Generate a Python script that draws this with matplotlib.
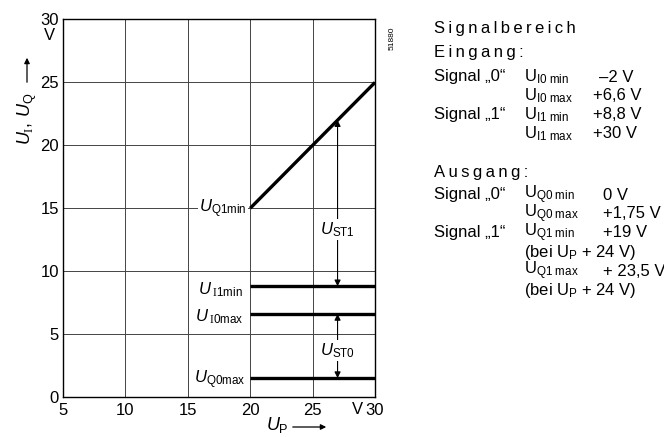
import matplotlib
matplotlib.use("Agg")
import matplotlib.pyplot as plt

# Kennlinien
up_q1 = [20, 30]
uq1_min = [15, 25]
up_flat = [20, 30]
ui1_min = [8.8, 8.8]
ui0_max = [6.6, 6.6]
uq0_max = [1.5, 1.5]

x_ticks = [5, 10, 15, 20, 25, 30]
y_ticks = [0, 5, 10, 15, 20, 25, 30]

# Störabstände
ust_x = 27
ust1 = (22, 8.8)
ust0 = (6.6, 1.5)

SANS = "Liberation Sans"
plt.rcParams["font.family"] = [SANS, "DejaVu Sans"]
plt.rcParams["mathtext.fontset"] = "custom"
plt.rcParams["mathtext.rm"] = SANS
plt.rcParams["mathtext.it"] = SANS + ":italic"
plt.rcParams["mathtext.sf"] = SANS
plt.rcParams["mathtext.tt"] = "Liberation Serif"

W, H = 664, 437
fig = plt.figure(figsize=(W / 100, H / 100), dpi=100)
ax = fig.add_axes([63 / W, 1 - 397 / H, 312 / W, 377.5 / H])


def px(x, y):
    return x / W, 1 - y / H


ax.set_xlim(5, 30)
ax.set_ylim(0, 30)
ax.set_xticks(x_ticks)
ax.set_yticks(y_ticks)
ax.tick_params(length=0, labelsize=12)
ax.tick_params(axis="x", pad=4)
ax.tick_params(axis="y", pad=3)
ax.grid(True, color="#444444", lw=0.7)
for s in ax.spines.values():
    s.set_linewidth(1.0)

ax.plot(up_q1, uq1_min, color="black", lw=2.4, solid_capstyle="butt")
ax.plot(up_flat, ui1_min, color="black", lw=2.4, solid_capstyle="butt")
ax.plot(up_flat, ui0_max, color="black", lw=2.4, solid_capstyle="butt")
ax.plot(up_flat, uq0_max, color="black", lw=2.4, solid_capstyle="butt")

arr = dict(arrowstyle="<|-|>", lw=0.8, color="black", mutation_scale=9,
           shrinkA=0, shrinkB=0)
ax.annotate("", xy=(ust_x, ust1[0]), xytext=(ust_x, ust1[1]), arrowprops=arr)
ax.annotate("", xy=(ust_x, ust0[0]), xytext=(ust_x, ust0[1]), arrowprops=arr)

box = dict(facecolor="white", edgecolor="none", pad=1)
lab = dict(fontsize=12, va="center", bbox=box)
ax.text(19.7, 15, r"$U_{\mathsf{Q1min}}$", ha="right", **lab)
ax.text(19.4, 8.5, r"$U\,_{\mathtt{I}\mathsf{1min}}$", ha="right", **lab)
ax.text(19.5, 6.4, r"$U\,_{\mathtt{I}\mathsf{0max}}$", ha="right", **lab)
ax.text(19.6, 1.4, r"$U_{\mathsf{Q0max}}$", ha="right", **lab)
ax.text(ust_x, 13.3, r"$U_{\mathsf{ST1}}$", ha="center", **lab)
ax.text(ust_x, 3.7, r"$U_{\mathsf{ST0}}$", ha="center", **lab)

# Achsenbeschriftung
fig.text(*px(49, 36), "V", fontsize=12, ha="center", va="center")
fig.text(*px(357, 410), "V", fontsize=12, ha="center", va="center")
fig.text(*px(27, 119), r"$U_{\mathtt{I}},\,U_{\mathsf{Q}}$", fontsize=13,
         rotation=90, ha="center", va="center")
fig.add_artist(matplotlib.patches.FancyArrowPatch(
    px(27, 85), px(27, 55), transform=fig.transFigure, arrowstyle="-|>",
    mutation_scale=8, lw=0.9, color="black"))
fig.text(*px(277, 425), r"$U_{\mathsf{P}}$", fontsize=13, ha="center", va="center")
fig.add_artist(matplotlib.patches.FancyArrowPatch(
    px(290, 427), px(329, 427), transform=fig.transFigure, arrowstyle="-|>",
    mutation_scale=8, lw=0.9, color="black"))
fig.text(*px(392, 38), "51880", fontsize=6, rotation=90, ha="center", va="center")

# Tabelle rechts
REG = [SANS, "DejaVu Sans"]
tsz = 12
col_a, col_b, col_c, col_d = 434, 524, 593, 603


def t(x, y, s):
    fig.text(*px(x, y), s, fontsize=tsz, family=REG, ha="left", va="center")


def spaced(s):
    return "\u2009".join(s)


def u(sub):
    return r"$\mathrm{U}_{\mathrm{" + sub.replace(" ", r"\ ") + "}}$"


t(col_a, 28, spaced("Signalbereich"))
t(col_a, 52, spaced("Eingang:"))
t(col_a, 77, "Signal \u201e0\u201c")
t(col_b, 77, u("I0 min"))
t(col_c + 6, 77, "\u20132 V")
t(col_b, 96, u("I0 max"))
t(col_c, 96, "+6,6 V")
t(col_a, 115, "Signal \u201e1\u201c")
t(col_b, 115, u("I1 min"))
t(col_c, 115, "+8,8 V")
t(col_b, 134, u("I1 max"))
t(col_c, 134, "+30 V")

t(col_a, 172, spaced("Ausgang:"))
t(col_a, 195, "Signal \u201e0\u201c")
t(col_b, 195, u("Q0 min"))
t(col_d, 195, "0 V")
t(col_b, 214, u("Q0 max"))
t(col_d, 214, "+1,75 V")
t(col_a, 233, "Signal \u201e1\u201c")
t(col_b, 233, u("Q1 min"))
t(col_d, 233, "+19 V")
t(col_b, 252, r"(bei $\mathrm{U}_{\mathrm{P}}$ + 24 V)")
t(col_b, 271, u("Q1 max"))
t(col_d, 271, "+ 23,5 V")
t(col_b, 290, r"(bei $\mathrm{U}_{\mathrm{P}}$ + 24 V)")

fig.savefig("out.png", dpi=100)
